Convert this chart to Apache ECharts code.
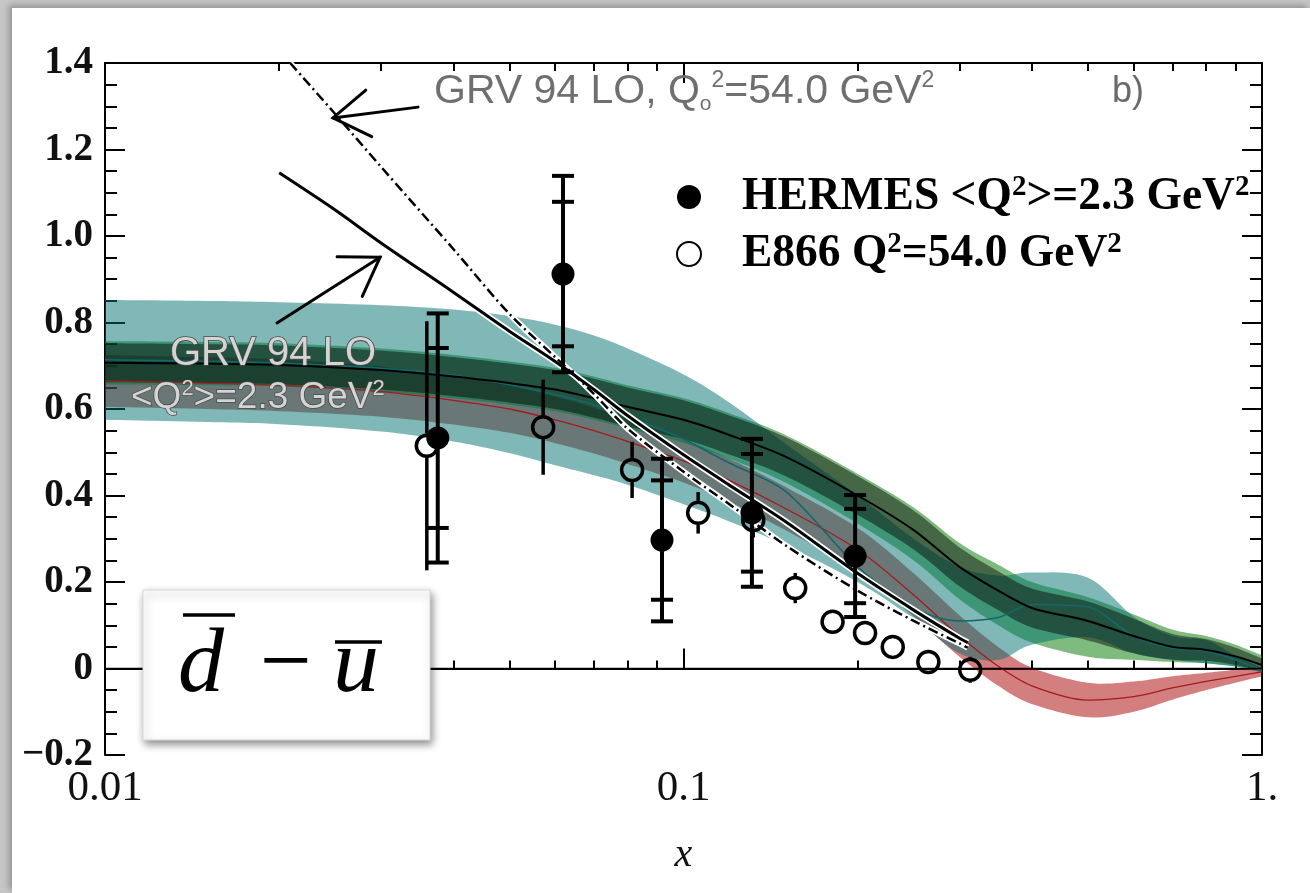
<!DOCTYPE html>
<html><head><meta charset="utf-8">
<script src="https://cdn.jsdelivr.net/npm/echarts@6/dist/echarts.min.js"></script>
<style>
html,body{margin:0;padding:0;width:1310px;height:893px;overflow:hidden;background:#c6c6c6;}
#panel{position:absolute;left:12px;top:8px;width:1298px;height:885px;background:#fff;box-shadow:-3px -3px 6px rgba(0,0,0,0.25);}
#chart{position:absolute;left:0;top:0;width:1310px;height:893px;}
</style></head><body><div id="panel"></div><div id="chart"></div>
<script>
// ---------- data ----------
const xGrid    = [0.01,0.015,0.02,0.03,0.04,0.05,0.06,0.07,0.08,0.1,0.12,0.15,0.2,0.25,0.3,0.35,0.4,0.5,0.6,0.7,0.8,0.9,1.0];
const tealHi   = [0.852,0.85,0.847,0.84,0.83,0.815,0.795,0.77,0.74,0.68,0.615,0.52,0.40,0.30,0.235,0.215,0.222,0.21,0.12,0.075,0.066,0.03,0.0];
const tealLo   = [0.575,0.57,0.565,0.548,0.525,0.498,0.47,0.447,0.425,0.38,0.34,0.285,0.2,0.115,0.035,0.02,0.055,0.072,0.035,0.02,0.012,0.004,-0.01];
const tealLine = [0.714,0.71,0.706,0.694,0.678,0.656,0.633,0.61,0.583,0.53,0.475,0.41,0.235,0.14,0.11,0.118,0.148,0.142,0.075,0.047,0.04,0.02,-0.005];
const redHi    = [0.725,0.72,0.715,0.698,0.676,0.655,0.629,0.603,0.577,0.53,0.485,0.42,0.325,0.22,0.123,0.05,0.002,-0.033,-0.03,-0.018,-0.01,-0.003,0.002];
const redLo    = [0.605,0.60,0.595,0.582,0.564,0.545,0.521,0.497,0.473,0.43,0.385,0.32,0.225,0.12,0.027,-0.04,-0.082,-0.113,-0.1,-0.072,-0.05,-0.033,-0.018];
const redLine  = [0.665,0.66,0.655,0.64,0.62,0.60,0.575,0.55,0.525,0.48,0.435,0.37,0.275,0.17,0.075,0.005,-0.04,-0.073,-0.065,-0.045,-0.03,-0.018,-0.008];
const greenHi  = [0.757,0.755,0.752,0.74,0.725,0.71,0.695,0.675,0.655,0.625,0.59,0.54,0.45,0.372,0.29,0.24,0.2,0.165,0.125,0.09,0.075,0.055,0.03];
const greenLo  = [0.657,0.655,0.652,0.64,0.625,0.61,0.595,0.575,0.555,0.522,0.485,0.43,0.335,0.25,0.16,0.1,0.06,0.027,0.02,0.015,0.012,0.005,-0.003];
const blackHi  = [0.752,0.75,0.747,0.735,0.72,0.705,0.69,0.67,0.65,0.62,0.585,0.535,0.445,0.365,0.28,0.225,0.185,0.155,0.115,0.08,0.068,0.048,0.023];
const blackLo  = [0.662,0.66,0.657,0.645,0.63,0.615,0.60,0.58,0.56,0.53,0.495,0.445,0.355,0.275,0.19,0.135,0.095,0.065,0.035,0.02,0.018,0.008,-0.007];
const blackLine= [0.707,0.705,0.702,0.69,0.675,0.66,0.645,0.625,0.605,0.575,0.54,0.49,0.40,0.32,0.235,0.18,0.14,0.11,0.075,0.05,0.043,0.028,0.008];

const grvLowX  = [0.02,0.025,0.03,0.04,0.05,0.06,0.07,0.08,0.1,0.12,0.15,0.2,0.25,0.3,0.31];
const grvLowY  = [1.146,1.06,0.984,0.87,0.78,0.71,0.645,0.585,0.494,0.424,0.34,0.22,0.135,0.07,0.06];
const grvHighX = [0.0209,0.025,0.03,0.04,0.05,0.06,0.07,0.08,0.1,0.12,0.15,0.2,0.25,0.3,0.31];
const grvHighY = [1.40,1.282,1.16,0.97,0.82,0.72,0.635,0.555,0.455,0.38,0.285,0.18,0.11,0.058,0.048];

const hermesX    = [0.0376,0.0619,0.0918,0.1313,0.198];
const hermesY    = [0.533,0.912,0.297,0.360,0.260];
const hermesStat = [0.208,0.167,0.138,0.136,0.109];
const hermesTot  = [0.288,0.227,0.188,0.171,0.141];

const e866X   = [0.036,0.0572,0.0815,0.106,0.132,0.156,0.181,0.206,0.230,0.265,0.313];
const e866Y   = [0.515,0.558,0.459,0.360,0.343,0.186,0.108,0.082,0.050,0.015,-0.003];
const e866Err = [0.288,0.11,0.065,0.048,0.04,0.035,0.022,0.02,0.018,0.018,0.03];

const xTickValues = [0.01,0.1,1];
const xTickLabels = ['0.01','0.1','1.'];
const xMinorTicks = [0.02,0.03,0.04,0.05,0.06,0.07,0.08,0.09,0.2,0.3,0.4,0.5,0.6,0.7,0.8,0.9];
const yTickLabels = ['\u22120.2','0','0.2','0.4','0.6','0.8','1.0','1.2','1.4'];

const hermesName = 'HERMES <Q\u00b2>=2.3 GeV\u00b2';
const e866Name   = 'E866 Q\u00b2=54.0 GeV\u00b2';
const legendRich = {};
legendRich[hermesName] = '{b|HERMES <Q}{s|2}{b|>=2.3 GeV}{s|2}';
legendRich[e866Name]   = '{b|E866 Q}{s|2}{b|=54.0 GeV}{s|2}';

// annotation anchors (data coords)
const arrowHigh = {tip:[0.02478,1.273], tail:[0.03476,1.298]};
const arrowLow  = {tip:[0.02989,0.951], tail:[0.01983,0.799]};

// ---------- helpers ----------
const pairs = (xs, ys) => xs.map((x,i)=>[x, ys[i]]);
// Catmull-Rom smoothing of pixel points (rendering only)
function spline(p){
  const out = [], n = p.length, S = 10;
  for (let i = 0; i < n-1; i++){
    const p0 = p[Math.max(i-1,0)], p1 = p[i], p2 = p[i+1], p3 = p[Math.min(i+2,n-1)];
    for (let k = 0; k < S; k++){
      const t = k/S, t2 = t*t, t3 = t2*t;
      const f = j => 0.5*((2*p1[j]) + (-p0[j]+p2[j])*t + (2*p0[j]-5*p1[j]+4*p2[j]-p3[j])*t2 + (-p0[j]+3*p1[j]-3*p2[j]+p3[j])*t3);
      out.push([f(0), f(1)]);
    }
  }
  out.push(p[n-1]);
  return out;
}
function band(name, lo, hi, color){
  return {type:'custom', name:name, silent:true, clip:true, z:2, xAxisIndex:0, yAxisIndex:0,
    encode:{x:0, y:1}, data:[[xGrid[0], lo[0]]],
    renderItem: (params, api) => {
      const up = xGrid.map((x,i)=>api.coord([x, hi[i]]));
      const dn = xGrid.map((x,i)=>api.coord([x, lo[i]]));
      const pts = spline(up).concat(spline(dn).reverse());
      return {type:'polygon', shape:{points:pts}, style:{fill:color, stroke:null}};
    }};
}
function curve(name, xs, ys, color, width, type, z){
  return {type:'line', name:name, data:pairs(xs, ys), smooth:0.3, symbol:'none', silent:true, z:z||3,
          lineStyle:{color:color, width:width, type:type||'solid', cap:'butt'}};
}
// HERMES: full bar with stat + total caps
function errCaps(capHalf, lw){
  return function(params, api){
    const x = api.value(0), y = api.value(1), s = api.value(2), t = api.value(3);
    const c = api.coord([x, y]);
    const top = api.coord([x, y + t]), bot = api.coord([x, y - t]);
    const ch = [{type:'line', shape:{x1:c[0], y1:top[1], x2:c[0], y2:bot[1]}, style:{stroke:'#000', lineWidth:lw}}];
    [y+s, y-s, y+t, y-t].forEach(v => {
      const p = api.coord([x, v]);
      ch.push({type:'line', shape:{x1:c[0]-capHalf, y1:p[1], x2:c[0]+capHalf, y2:p[1]}, style:{stroke:'#000', lineWidth:lw}});
    });
    return {type:'group', children:ch};
  };
}
// E866: bar that stops at the open marker's edge
function errGap(r, lw){
  return function(params, api){
    const x = api.value(0), y = api.value(1), e = api.value(2);
    const c = api.coord([x, y]);
    const top = api.coord([x, y + e]), bot = api.coord([x, y - e]);
    const ch = [];
    if (c[1] - r > top[1]) ch.push({type:'line', shape:{x1:c[0], y1:top[1], x2:c[0], y2:c[1]-r}, style:{stroke:'#000', lineWidth:lw}});
    if (bot[1] > c[1] + r) ch.push({type:'line', shape:{x1:c[0], y1:c[1]+r, x2:c[0], y2:bot[1]}, style:{stroke:'#000', lineWidth:lw}});
    return {type:'group', children:ch};
  };
}

const serif = '"Liberation Serif", "Times New Roman", serif';
const sans  = '"Liberation Sans", Arial, sans-serif';

const xAxisBase = {type:'log', logBase:10, min:0.01, max:1, gridIndex:0, splitLine:{show:false}};
const yAxisBase = {type:'value', min:-0.2, max:1.4, interval:0.2, splitLine:{show:false},
  axisLine:{show:true, lineStyle:{color:'#000', width:2}},
  axisTick:{show:true, inside:true, length:20, lineStyle:{color:'#000', width:2}},
  minorTick:{show:true, splitNumber:4, length:12, lineStyle:{color:'#000', width:2}}};

const series = [
  band('redBand',   redLo,   redHi,   'rgba(170,0,0,0.5)'),
  band('greenBand', greenLo, greenHi, 'rgba(0,120,0,0.5)'),
  band('tealBand',  tealLo,  tealHi,  'rgba(0,113,110,0.5)'),
  band('blackBand', blackLo, blackHi, 'rgba(0,0,0,0.45)'),
  curve('redLine',  xGrid, redLine,  '#a51a1e', 1.3),
  curve('tealLine', xGrid, tealLine, '#12686c', 1.6),
  curve('blackLine',xGrid, blackLine,'#000', 2),
  {type:'line', name:'zero', data:[[0.01,0],[1,0]], symbol:'none', silent:true, z:3,
   lineStyle:{color:'#000', width:1.5}},
  curve('grvHighHalo', grvHighX, grvHighY, '#fff', 6, 'solid', 4),
  curve('grvHigh',     grvHighX, grvHighY, '#000', 2.5, [10,4,2,4], 5),
  curve('grvLowHalo',  grvLowX,  grvLowY,  '#fff', 6.5, 'solid', 4),
  curve('grvLow',      grvLowX,  grvLowY,  '#000', 3, 'solid', 5),
  {type:'custom', name:'e866Err', renderItem:errGap(12, 3.5), z:6, silent:true,
   encode:{x:0, y:1}, data:e866X.map((x,i)=>[x, e866Y[i], e866Err[i]])},
  {type:'scatter', name:e866Name, data:pairs(e866X, e866Y), symbol:'circle', symbolSize:21, z:7, silent:true,
   itemStyle:{color:'rgba(0,0,0,0)', borderColor:'#000', borderWidth:3.5, opacity:1}},
  {type:'custom', name:'hermesErr', renderItem:errCaps(11, 4), z:8, silent:true,
   encode:{x:0, y:1}, data:hermesX.map((x,i)=>[x, hermesY[i], hermesStat[i], hermesTot[i]])},
  {type:'scatter', name:hermesName, data:pairs(hermesX, hermesY), symbol:'circle', symbolSize:23, z:9, silent:true,
   itemStyle:{color:'#000', borderWidth:0, opacity:1}}
];

const option = {
  backgroundColor:'transparent',
  animation:false,
  grid:{left:105, right:48, top:63, bottom:138, containLabel:false},
  legend:{
    orient:'vertical', left:671, top:168, itemWidth:24, itemHeight:24, itemGap:10, selectedMode:false,
    data:[{name:hermesName, icon:'circle'}, {name:e866Name, icon:'circle'}],
    formatter: n => legendRich[n],
    textStyle:{color:'#000', padding:[0,0,0,36],
      rich:{b:{fontFamily:serif, fontWeight:'bold', fontSize:45.5, lineHeight:48, color:'#000'},
            s:{fontFamily:serif, fontWeight:'bold', fontSize:29, lineHeight:30, verticalAlign:'top', color:'#000'}}}
  },
  xAxis:[
    Object.assign({}, xAxisBase, {position:'bottom',
      axisLine:{show:true, lineStyle:{color:'#000', width:2}},
      axisTick:{show:true, inside:true, length:20, lineStyle:{color:'#000', width:2}},
      axisLabel:{show:true, margin:12, fontFamily:serif, fontSize:43, color:'#111',
        formatter: v => { const i = xTickValues.findIndex(t => Math.abs(Math.log10(t) - Math.log10(v)) < 1e-6); return i >= 0 ? xTickLabels[i] : ''; }},
      name:'x', nameLocation:'middle', nameGap:80,
      nameTextStyle:{fontFamily:serif, fontStyle:'italic', fontSize:40, color:'#111'}}),
    Object.assign({}, xAxisBase, {position:'bottom', axisLine:{show:false}, axisLabel:{show:false},
      axisTick:{show:true, inside:true, length:8, customValues:xMinorTicks, lineStyle:{color:'#000', width:2}}}),
    Object.assign({}, xAxisBase, {position:'top', axisLine:{show:true, lineStyle:{color:'#000', width:2}},
      axisLabel:{show:false}, axisTick:{show:true, inside:true, length:20, lineStyle:{color:'#000', width:2}}}),
    Object.assign({}, xAxisBase, {position:'top', axisLine:{show:false}, axisLabel:{show:false},
      axisTick:{show:true, inside:true, length:8, customValues:xMinorTicks, lineStyle:{color:'#000', width:2}}})
  ],
  yAxis:[
    Object.assign({}, yAxisBase, {position:'left',
      axisLabel:{show:true, margin:12, fontFamily:serif, fontWeight:'bold', fontSize:39, color:'#111',
        formatter: v => yTickLabels[Math.round((v + 0.2) / 0.2)]}}),
    Object.assign({}, yAxisBase, {position:'right', axisLabel:{show:false}})
  ],
  series: series
};

const chart = echarts.init(document.getElementById('chart'), null, {renderer:'canvas'});
chart.setOption(option);

// ---------- annotations ----------
function toPx(p){ return chart.convertToPixel({xAxisIndex:0, yAxisIndex:0}, p); }
function arrow(a){
  const t = toPx(a.tip), s = toPx(a.tail);
  const dx = s[0]-t[0], dy = s[1]-t[1], L = Math.hypot(dx, dy);
  const ux = dx/L, uy = dy/L, ang = 33*Math.PI/180, hl = 43;
  const r = (x, y, th) => [x*Math.cos(th) - y*Math.sin(th), x*Math.sin(th) + y*Math.cos(th)];
  const h1 = r(ux, uy, ang), h2 = r(ux, uy, -ang);
  const st = {stroke:'#000', lineWidth:3, fill:null, lineCap:'round', lineJoin:'miter'};
  return [
    {type:'line', z:50, shape:{x1:s[0], y1:s[1], x2:t[0], y2:t[1]}, style:st},
    {type:'polyline', z:50, shape:{points:[[t[0]+h1[0]*hl, t[1]+h1[1]*hl], t, [t[0]+h2[0]*hl, t[1]+h2[1]*hl]]}, style:st}
  ];
}
const labelStyleOutline = {fill:'#d4d4d4', stroke:'#4a4a4a', lineWidth:1.6};
const graphic = [].concat(
  arrow(arrowHigh), arrow(arrowLow),
  [
    {type:'text', z:50, style:{x:434, y:92, textVerticalAlign:'middle',
      text:'{n|GRV 94 LO, Q}{sb|o}{sp|2}{n|=54.0 GeV}{sp|2}',
      rich:{n:{fontFamily:sans, fontSize:41, lineHeight:46, fill:'#6f6f6f'},
            sb:{fontFamily:sans, fontSize:21, lineHeight:22, verticalAlign:'bottom', fill:'#6f6f6f'},
            sp:{fontFamily:sans, fontSize:23, lineHeight:25, verticalAlign:'top', fill:'#6f6f6f'}}}},
    {type:'text', z:50, style:{x:1112, y:92, textVerticalAlign:'middle', text:'b)',
      font:'36px ' + sans, fill:'#6a6a6a'}},
    {type:'text', z:50, style:Object.assign({x:170, y:354, textVerticalAlign:'middle', text:'GRV 94 LO',
      font:'40px ' + sans}, labelStyleOutline)},
    {type:'text', z:50, style:{x:131, y:398, textVerticalAlign:'middle',
      text:'{n|<Q}{sp|2}{n|>=2.3 GeV}{sp|2}',
      rich:{n:{fontFamily:sans, fontSize:37, lineHeight:40, fill:'#d4d4d4', stroke:'#4a4a4a', lineWidth:1.5},
            sp:{fontFamily:sans, fontSize:22, lineHeight:22, verticalAlign:'top', fill:'#d4d4d4', stroke:'#4a4a4a', lineWidth:1.2}}}},
    // d-bar minus u-bar box
    {type:'rect', z:60, shape:{x:143, y:590, width:287, height:150},
     style:{fill:'#fff', stroke:'#d8d8d8', lineWidth:1, shadowBlur:8, shadowOffsetX:2, shadowOffsetY:4, shadowColor:'rgba(0,0,0,0.45)'}},
    {type:'text', z:61, style:{x:178, y:667, textVerticalAlign:'middle', text:'d', font:'italic 92px ' + serif, fill:'#000'}},
    {type:'text', z:61, style:{x:260, y:667, textVerticalAlign:'middle', text:'\u2212', font:'92px ' + serif, fill:'#000'}},
    {type:'text', z:61, style:{x:333, y:667, textVerticalAlign:'middle', text:'u', font:'italic 92px ' + serif, fill:'#000'}},
    {type:'line', z:61, shape:{x1:183, y1:615, x2:235, y2:615}, style:{stroke:'#000', lineWidth:3.5}},
    {type:'line', z:61, shape:{x1:335, y1:642, x2:382, y2:642}, style:{stroke:'#000', lineWidth:3.5}}
  ]
);
chart.setOption({graphic: graphic});
</script></body></html>
